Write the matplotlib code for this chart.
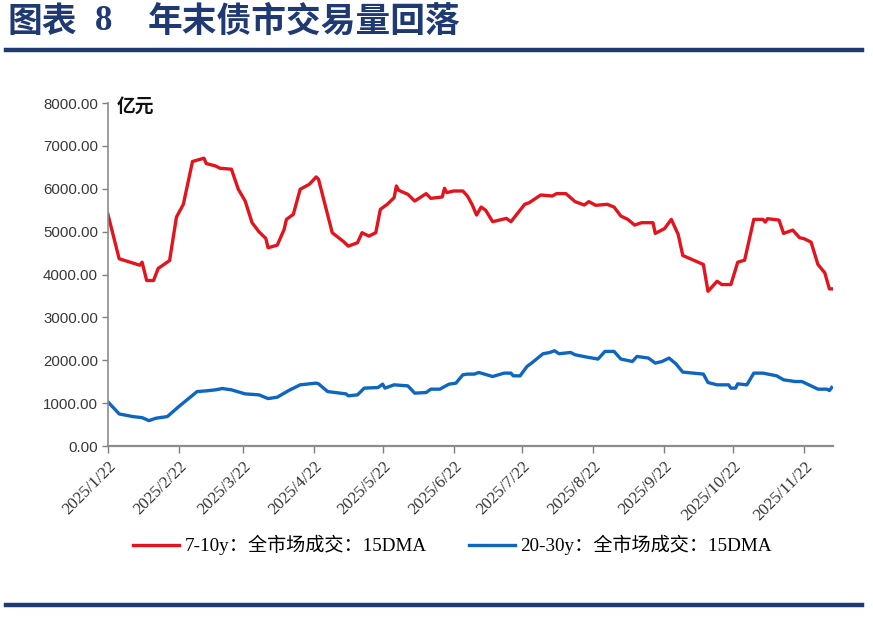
import matplotlib.pyplot as plt
import matplotlib.lines as mlines
import pandas as pd

# 7-10y full market turnover, 15DMA (100 mn yuan)
red_dates = ["01-22", "01-27", "02-05", "02-06", "02-08", "02-11", "02-13", "02-18", "02-21", "02-24",
             "02-28", "03-05", "03-06", "03-10", "03-12", "03-17", "03-20", "03-23", "03-26", "03-29",
             "04-01", "04-02", "04-06", "04-09", "04-10", "04-13", "04-16", "04-20", "04-23", "04-24",
             "04-30", "05-05", "05-07", "05-11", "05-13", "05-16", "05-19", "05-21", "05-24", "05-27",
             "05-28", "05-29", "06-02", "06-05", "06-10", "06-12", "06-17", "06-18", "06-19", "06-22",
             "06-26", "06-28", "06-30", "07-02", "07-04", "07-06", "07-09", "07-15", "07-17", "07-23",
             "07-25", "07-30", "08-04", "08-06", "08-10", "08-14", "08-18", "08-20", "08-23", "08-28",
             "08-31", "09-03", "09-06", "09-09", "09-12", "09-17", "09-18", "09-22", "09-25", "09-28",
             "09-30", "10-09", "10-11", "10-15", "10-17", "10-21", "10-24", "10-27", "10-31", "11-04",
             "11-05", "11-06", "11-11", "11-13", "11-17", "11-20", "11-22", "11-25", "11-28", "12-01",
             "12-03", "12-04"]
red_vals = [5420, 4367, 4217, 4288, 3860, 3860, 4140, 4327, 5340, 5637,
            6636, 6713, 6589, 6533, 6479, 6456, 5988, 5714, 5209, 4998,
            4842, 4624, 4685, 5052, 5286, 5403, 5988, 6105, 6276, 6222,
            4975, 4765, 4662, 4741, 4975, 4896, 4975, 5520, 5637, 5793,
            6065, 5964, 5871, 5714, 5887, 5777, 5808, 6011, 5911, 5948,
            5948, 5831, 5637, 5387, 5574, 5497, 5232, 5309, 5232, 5637,
            5676, 5855, 5831, 5887, 5887, 5700, 5621, 5700, 5614, 5637,
            5574, 5363, 5286, 5153, 5209, 5209, 4959, 5069, 5286, 4935,
            4444, 4234, 3609, 3843, 3766, 3766, 4288, 4334, 5286, 5286,
            5223, 5302, 5270, 4959, 5036, 4858, 4835, 4755, 4234, 4039,
            3665, 3665]

# 20-30y full market turnover, 15DMA
blue_dates = ["01-22", "01-27", "02-02", "02-06", "02-09", "02-12", "02-17", "02-22", "03-02", "03-06",
              "03-10", "03-13", "03-17", "03-23", "03-29", "04-02", "04-06", "04-11", "04-16", "04-23",
              "04-24", "04-28", "05-06", "05-07", "05-11", "05-14", "05-20", "05-22", "05-23", "05-27",
              "06-02", "06-05", "06-10", "06-12", "06-16", "06-18", "06-20", "06-23", "06-26", "06-28",
              "07-01", "07-03", "07-09", "07-14", "07-17", "07-18", "07-21", "07-24", "07-26", "07-31",
              "08-03", "08-05", "08-07", "08-12", "08-14", "08-19", "08-24", "08-27", "08-31", "09-03",
              "09-08", "09-10", "09-15", "09-18", "09-21", "09-24", "09-27", "09-30", "10-09", "10-11",
              "10-15", "10-20", "10-21", "10-23", "10-24", "10-28", "10-31", "11-04", "11-10", "11-13",
              "11-18", "11-21", "11-25", "11-28", "12-02", "12-03", "12-04"]
blue_vals = [1036, 748, 686, 662, 592, 648, 686, 919, 1270, 1286,
             1310, 1341, 1310, 1216, 1193, 1106, 1139, 1294, 1427, 1467,
             1451, 1270, 1216, 1170, 1193, 1350, 1364, 1443, 1350, 1427,
             1403, 1233, 1247, 1326, 1326, 1387, 1443, 1467, 1661, 1677,
             1677, 1715, 1621, 1700, 1700, 1637, 1637, 1855, 1934, 2152,
             2182, 2222, 2152, 2182, 2128, 2075, 2028, 2206, 2206, 2028,
             1972, 2089, 2051, 1934, 1972, 2051, 1918, 1724, 1677, 1481,
             1427, 1427, 1350, 1350, 1450, 1427, 1700, 1700, 1637, 1544,
             1504, 1504, 1403, 1326, 1326, 1294, 1364]

tick_labels = ["2025/1/22", "2025/2/22", "2025/3/22", "2025/4/22", "2025/5/22", "2025/6/22",
               "2025/7/22", "2025/8/22", "2025/9/22", "2025/10/22", "2025/11/22"]
y_ticks = [0, 1000, 2000, 3000, 4000, 5000, 6000, 7000, 8000]

red_label = "7-10y：全市场成交：15DMA"
blue_label = "20-30y：全市场成交：15DMA"

red_x = pd.to_datetime(["2025-" + d for d in red_dates])
blue_x = pd.to_datetime(["2025-" + d for d in blue_dates])
tick_x = pd.to_datetime(tick_labels, format="%Y/%m/%d")

navy = "#1F3A73"
red = "#E3141E"
blue = "#0E66BE"
serif_cjk = ["Liberation Serif", "Noto Sans CJK SC"]

fig = plt.figure(figsize=(8.73, 6.18), dpi=100)
ax = fig.add_axes([0.1234, 0.2783, 0.8308, 0.555])

ax.plot(red_x, red_vals, color=red, lw=2.4, label=red_label)
ax.plot(blue_x, blue_vals, color=blue, lw=2.4, label=blue_label)

ax.set_ylim(0, 8000)
ax.set_xlim(pd.Timestamp("2025-01-22"), pd.Timestamp("2025-12-04 14:00"))
ax.set_yticks(y_ticks)
ax.set_yticklabels([f"{v:.2f}" for v in y_ticks], family="Liberation Sans",
                   fontsize=10.8, color="#383838")
ax.set_xticks(tick_x)
ax.set_xticklabels(tick_labels, rotation=45, ha="right", va="top", rotation_mode="anchor",
                   family="Liberation Serif", fontsize=12.2, color="#333333")
ax.tick_params(axis="y", length=4, width=1, color="#7f7f7f", pad=3)
ax.tick_params(axis="x", length=5, width=1, color="#7f7f7f", pad=4)

for s in ["top", "right"]:
    ax.spines[s].set_visible(False)
ax.spines["left"].set_color("#8c8c8c")
ax.spines["left"].set_linewidth(1.2)
ax.spines["bottom"].set_color("#8c8c8c")
ax.spines["bottom"].set_linewidth(1.6)

ax.text(0.012, 7920, "亿元", transform=ax.get_yaxis_transform(), family="Noto Sans CJK SC",
        fontsize=13.5, fontweight="bold", color="#111111", va="center", ha="left")

fig.legend(loc="center", bbox_to_anchor=(0.518, 0.118), ncol=2, frameon=False,
           prop={"family": serif_cjk, "size": 13.8}, handlelength=2.4, columnspacing=2.2,
           handletextpad=0.3)

# title
fig.text(8 / 873, 0.966, "图表", family="Noto Sans CJK SC", fontsize=25, fontweight="bold",
         color=navy, va="center", ha="left")
fig.text(95 / 873, 0.966, "8", family="Liberation Serif", fontsize=25, fontweight="bold",
         color=navy, va="center", ha="left")
fig.text(148 / 873, 0.966, "年末债市交易量回落", family="Noto Sans CJK SC", fontsize=25,
         fontweight="bold", color=navy, va="center", ha="left")

fig.add_artist(mlines.Line2D([6 / 873, 862 / 873], [1 - 50 / 618] * 2, color=navy, lw=3.2))
fig.add_artist(mlines.Line2D([6 / 873, 862 / 873], [1 - 605 / 618] * 2, color=navy, lw=3.2))

fig.savefig("out.png", dpi=100)
